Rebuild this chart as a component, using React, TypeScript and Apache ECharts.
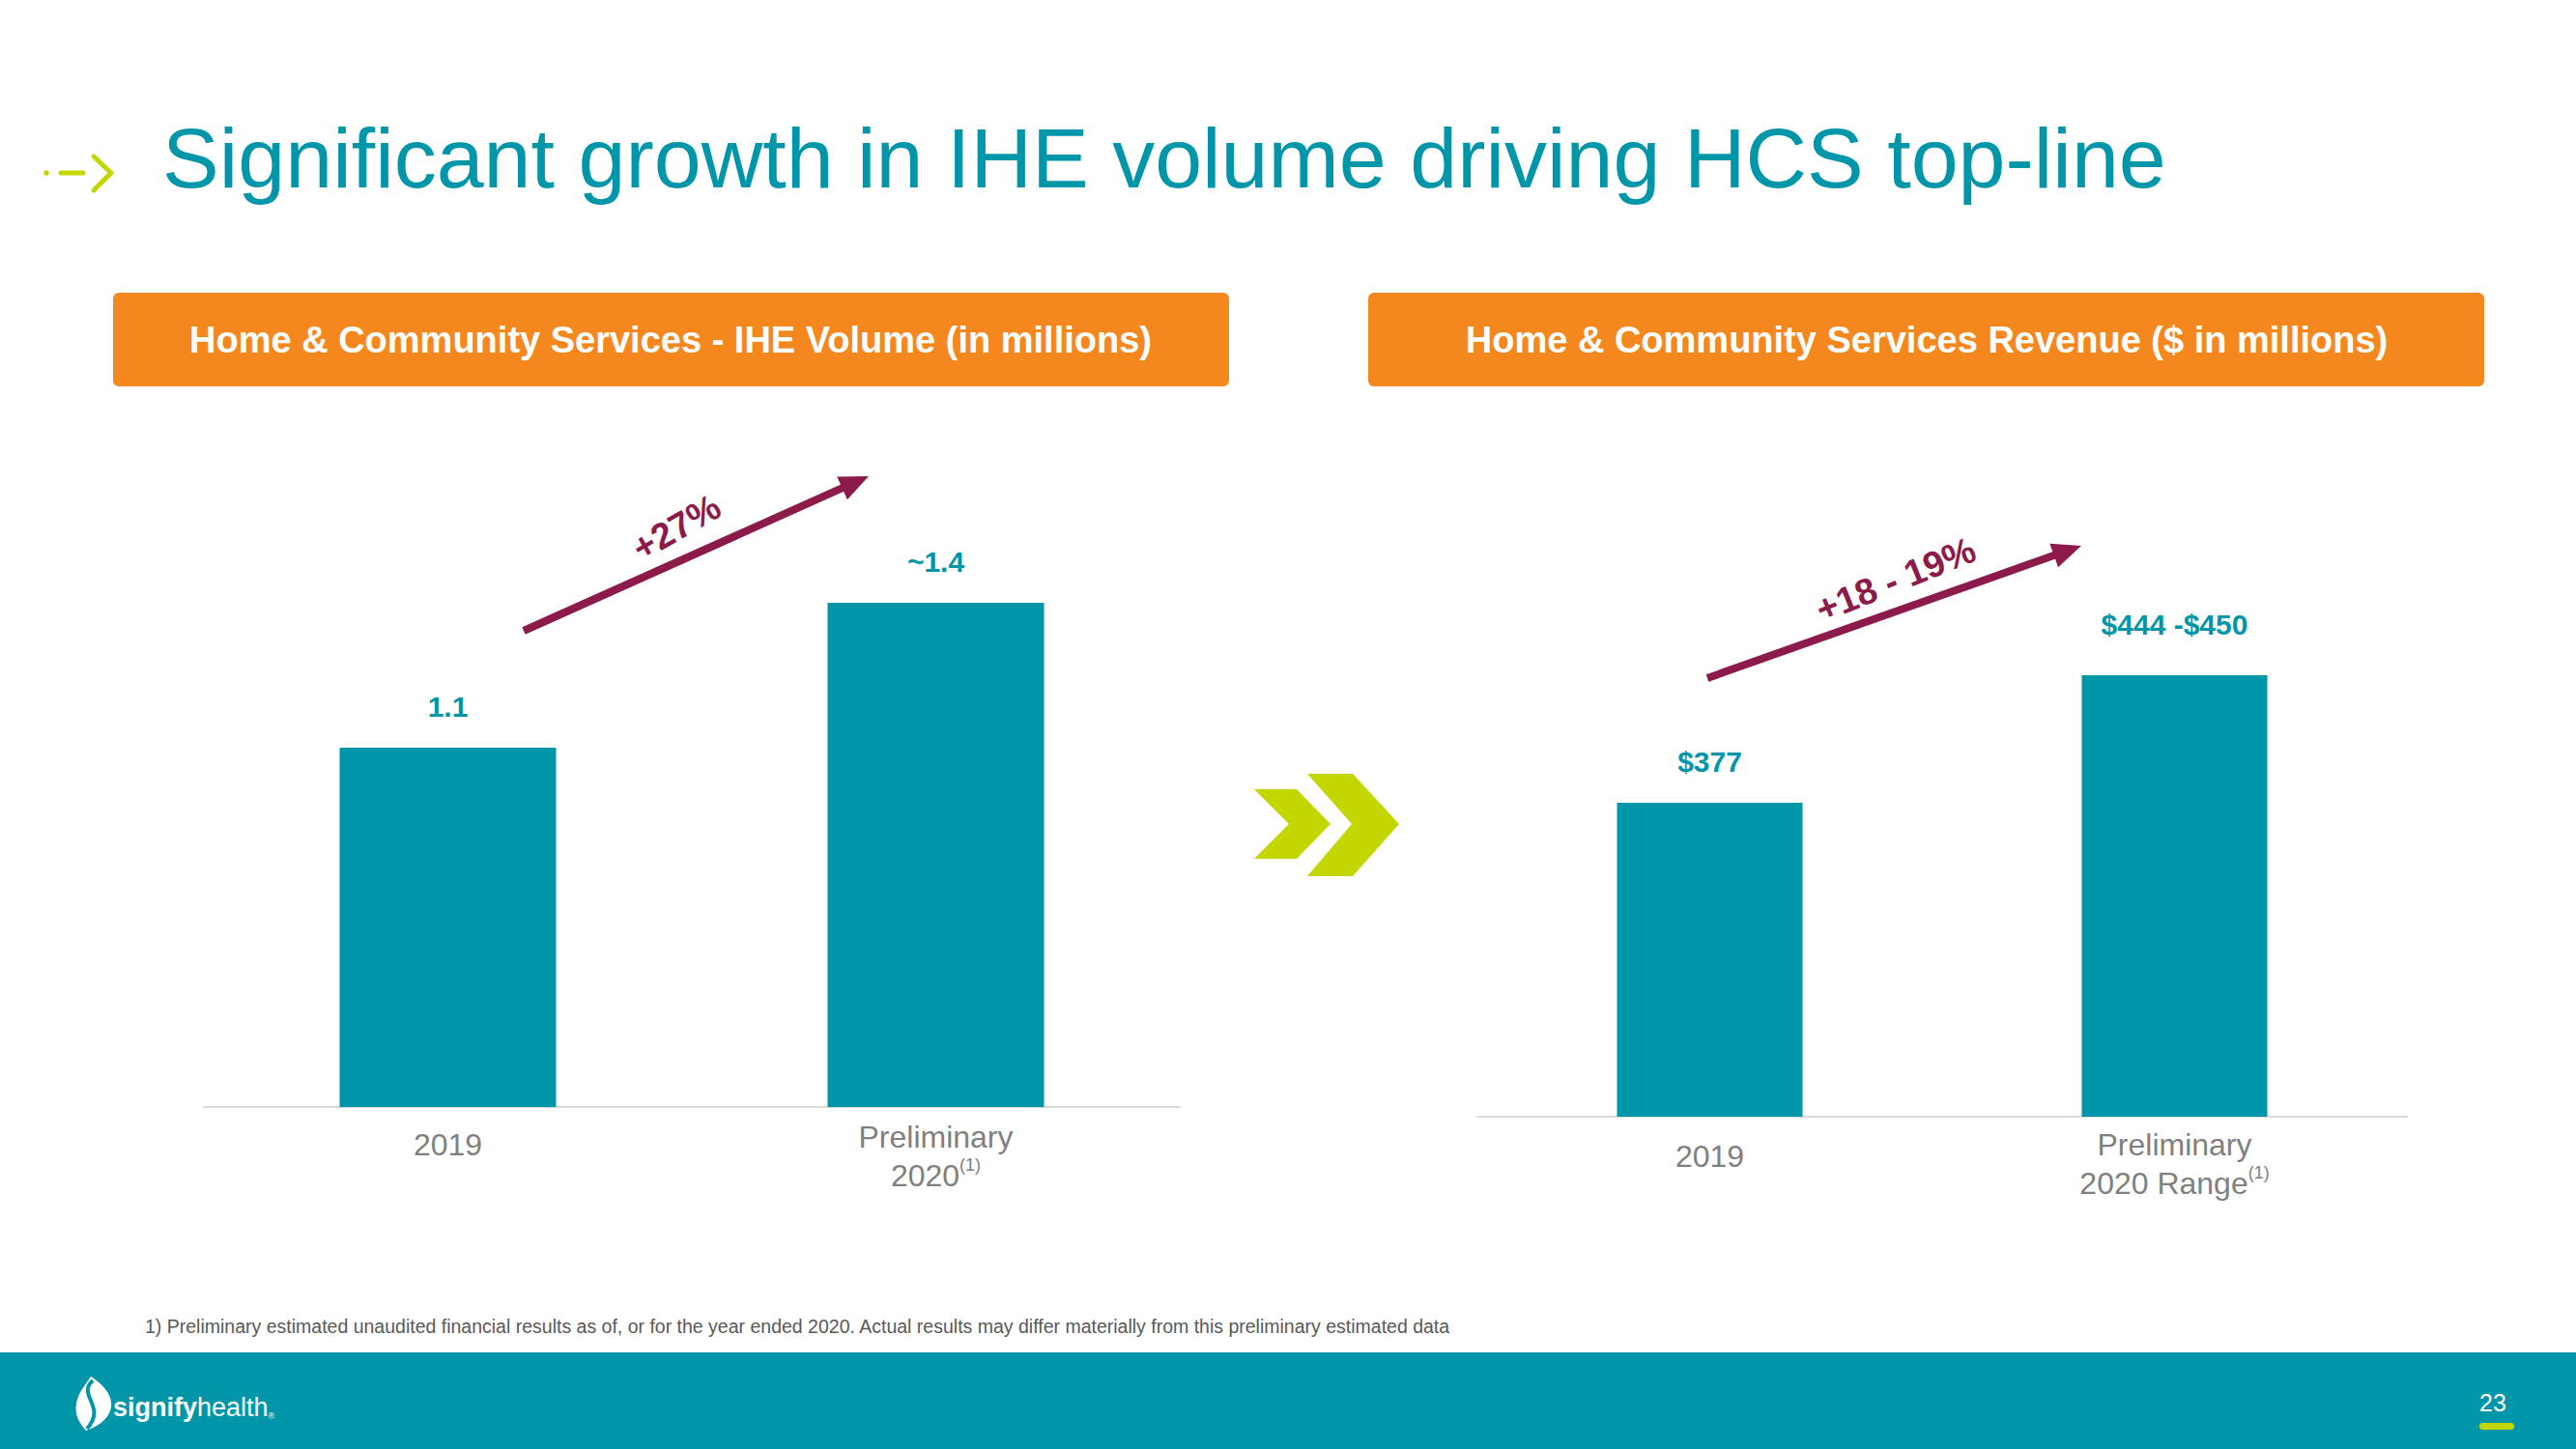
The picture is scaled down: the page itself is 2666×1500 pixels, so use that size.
import React, { useEffect, useRef } from "react";
import * as echarts from "echarts";

// ---------- data ----------
const titleText = "Significant growth in IHE volume driving HCS top-line";
const leftHeader = "Home & Community Services - IHE Volume (in millions)";
const rightHeader = "Home & Community Services Revenue ($ in millions)";

const leftCategories = ["2019", "Preliminary\n2020"];
const leftValues = [1.1, 1.4];
const leftLabels = ["1.1", "~1.4"];

const rightCategories = ["2019", "Preliminary\n2020 Range"];
const rightValues = [377, 447];
const rightLabels = ["$377", "$444 -$450"];

const growthLabels = ["+27%", "+18 - 19%"];
const footnote =
  "1) Preliminary estimated unaudited financial results as of, or for the year ended 2020. Actual results may differ materially from this preliminary estimated data";
const pageNumber = "23";

// ---------- styles ----------
const TEAL = "#0096A9";
const ORANGE = "#F5871F";
const MAROON = "#8C1A4B";
const LIME = "#C4D600";
const GRAY = "#808080";
const FONT = "'Liberation Sans', Arial, sans-serif";

echarts.graphic.registerShape(
  "sigFlame",
  echarts.graphic.extendPath(
    "M17,0 C30,8 40,20 38,32 C36,44 24,52 12,56 C4,47 0,38 2,28 C4,16 12,8 17,0 Z",
    {}
  )
);

function arrow(from: number[], to: number[]) {
  const dx = to[0] - from[0];
  const dy = to[1] - from[1];
  const len = Math.sqrt(dx * dx + dy * dy);
  const ux = dx / len, uy = dy / len;
  const nx = -uy, ny = ux;
  const headLen = 30, headHalf = 13;
  const bx = to[0] - ux * headLen, by = to[1] - uy * headLen;
  return [
    {
      type: "line",
      shape: { x1: from[0], y1: from[1], x2: bx + ux * 2, y2: by + uy * 2 },
      style: { stroke: MAROON, lineWidth: 8 },
    },
    {
      type: "polygon",
      shape: {
        points: [
          [to[0], to[1]],
          [bx + nx * headHalf, by + ny * headHalf],
          [bx - nx * headHalf, by - ny * headHalf],
        ],
      },
      style: { fill: MAROON },
    },
  ];
}

function catFormatter(v: string) {
  if (v.indexOf("\n") < 0) return `{y|${v}}`;
  const lines = v.split("\n");
  return lines
    .map((l, i) => (i === lines.length - 1 ? `{a|${l}}{s|(1)}` : `{a|${l}}`))
    .join("\n");
}

function richFor(singleLH: number) {
  return {
    y: { fontSize: 32, lineHeight: singleLH, color: GRAY, fontFamily: FONT },
    a: { fontSize: 32, lineHeight: 40, color: GRAY, fontFamily: FONT },
    s: {
      fontSize: 18,
      lineHeight: 40,
      color: GRAY,
      fontFamily: FONT,
      verticalAlign: "top",
      padding: [0, 0, 14, 0],
    },
  };
}

export default function App() {
  const ref = useRef<HTMLDivElement>(null);

  useEffect(() => {
    if (!ref.current) return;
    const chart = echarts.init(ref.current, null, { renderer: "svg" });

    const labelStyle = {
      show: true,
      position: "top",
      distance: 28,
      color: TEAL,
      fontSize: 30,
      fontWeight: "bold",
      fontFamily: FONT,
    };

    const option: any = {
      animation: false,
      backgroundColor: "#FFFFFF",
      grid: [
        { left: 211, width: 1010, top: 500, bottom: 354 },
        { left: 1529, width: 962, top: 500, bottom: 344 },
      ],
      xAxis: [
        {
          type: "category",
          gridIndex: 0,
          data: leftCategories,
          axisLine: { lineStyle: { color: "#D9D9D9", width: 2 } },
          axisTick: { show: false },
          axisLabel: { margin: 11, formatter: catFormatter, rich: richFor(56) },
        },
        {
          type: "category",
          gridIndex: 1,
          data: rightCategories,
          axisLine: { lineStyle: { color: "#D9D9D9", width: 2 } },
          axisTick: { show: false },
          axisLabel: { margin: 9, formatter: catFormatter, rich: richFor(64) },
        },
      ],
      yAxis: [
        { type: "value", gridIndex: 0, min: 0.356, max: 1.648, show: false, splitLine: { show: false } },
        { type: "value", gridIndex: 1, min: 204.7, max: 552.5, show: false, splitLine: { show: false } },
      ],
      series: [
        {
          type: "bar",
          xAxisIndex: 0,
          yAxisIndex: 0,
          barWidth: 224,
          itemStyle: { color: TEAL },
          data: leftValues.map((v) => ({ value: v })),
          label: { ...labelStyle, formatter: (p: any) => leftLabels[p.dataIndex] },
        },
        {
          type: "bar",
          xAxisIndex: 1,
          yAxisIndex: 1,
          barWidth: 192,
          itemStyle: { color: TEAL },
          data: rightValues.map((v, i) => (i === 1 ? { value: v, label: { distance: 37 } } : { value: v })),
          label: { ...labelStyle, formatter: (p: any) => rightLabels[p.dataIndex] },
        },
      ],
      graphic: [
        // title icon
        { type: "circle", shape: { cx: 48, cy: 179, r: 2.8 }, style: { fill: LIME } },
        { type: "line", shape: { x1: 63, y1: 179, x2: 86, y2: 179 }, style: { stroke: LIME, lineWidth: 5, lineCap: "round" } },
        {
          type: "polyline",
          shape: { points: [[97, 162], [115, 179], [97, 197]] },
          style: { stroke: LIME, lineWidth: 5, lineCap: "round", lineJoin: "round", fill: null },
        },
        // title
        {
          type: "text",
          x: 168,
          y: 163,
          style: {
            text: titleText,
            fill: TEAL,
            fontSize: 88,
            fontFamily: FONT,
            align: "left",
            verticalAlign: "middle",
          },
        },
        // header boxes
        { type: "rect", shape: { x: 117, y: 303, width: 1155, height: 97, r: 6 }, style: { fill: ORANGE } },
        { type: "rect", shape: { x: 1416, y: 303, width: 1155, height: 97, r: 6 }, style: { fill: ORANGE } },
        {
          type: "text",
          x: 694,
          y: 352,
          style: { text: leftHeader, fill: "#FFFFFF", fontSize: 38, fontWeight: "bold", fontFamily: FONT, align: "center", verticalAlign: "middle" },
        },
        {
          type: "text",
          x: 1994,
          y: 352,
          style: { text: rightHeader, fill: "#FFFFFF", fontSize: 38, fontWeight: "bold", fontFamily: FONT, align: "center", verticalAlign: "middle" },
        },
        // growth arrows
        ...arrow([542, 653], [899, 493]),
        ...arrow([1767, 702], [2154, 565]),
        {
          type: "text",
          x: 700,
          y: 546,
          rotation: (30 * Math.PI) / 180,
          style: { text: growthLabels[0], fill: MAROON, fontSize: 38, fontWeight: "bold", fontFamily: FONT, align: "center", verticalAlign: "middle" },
        },
        {
          type: "text",
          x: 1962,
          y: 600,
          rotation: (22 * Math.PI) / 180,
          style: { text: growthLabels[1], fill: MAROON, fontSize: 38, fontWeight: "bold", fontFamily: FONT, align: "center", verticalAlign: "middle" },
        },
        // chevrons
        {
          type: "polygon",
          shape: { points: [[1298, 817], [1342, 817], [1377, 853], [1342, 889], [1298, 889], [1334, 853]] },
          style: { fill: LIME },
        },
        {
          type: "polygon",
          shape: { points: [[1353, 801], [1400, 801], [1448, 853], [1400, 907], [1353, 907], [1399, 853]] },
          style: { fill: LIME },
        },
        // footnote
        {
          type: "text",
          x: 150,
          y: 1373,
          style: { text: footnote, fill: "#595959", fontSize: 19.5, fontFamily: FONT, align: "left", verticalAlign: "middle" },
        },
        // footer band
        { type: "rect", shape: { x: 0, y: 1400, width: 2666, height: 100 }, style: { fill: TEAL } },
        // logo
        { type: "sigFlame", x: 77, y: 1425, scaleX: 1, scaleY: 1, style: { fill: "#FFFFFF" } },
        {
          type: "bezierCurve",
          shape: { x1: 19, y1: 4, cpx1: 2, cpy1: 20, cpx2: 34, cpy2: 30, x2: 13, y2: 54 },
          x: 77,
          y: 1425,
          style: { stroke: TEAL, lineWidth: 4, fill: null },
        },
        {
          type: "text",
          x: 117,
          y: 1457,
          style: {
            text: "{b|signify}{l|health}{r|®}",
            align: "left",
            verticalAlign: "middle",
            rich: {
              b: { fontSize: 27, fontWeight: "bold", fill: "#FFFFFF", fontFamily: FONT },
              l: { fontSize: 27, fill: "#FFFFFF", fontFamily: FONT },
              r: { fontSize: 9, fill: "#FFFFFF", fontFamily: FONT, verticalAlign: "bottom" },
            },
          },
        },
        // page number
        {
          type: "text",
          x: 2580,
          y: 1452,
          style: { text: pageNumber, fill: "#FFFFFF", fontSize: 25, fontFamily: FONT, align: "center", verticalAlign: "middle" },
        },
        { type: "rect", shape: { x: 2566, y: 1473, width: 36, height: 7, r: 3.5 }, style: { fill: LIME } },
      ],
    };

    chart.setOption(option);
    return () => chart.dispose();
  }, []);

  return (
    <div
      ref={ref}
      style={{ position: "fixed", left: 0, top: 0, width: 2666, height: 1500, background: "#FFFFFF" }}
    />
  );
}
